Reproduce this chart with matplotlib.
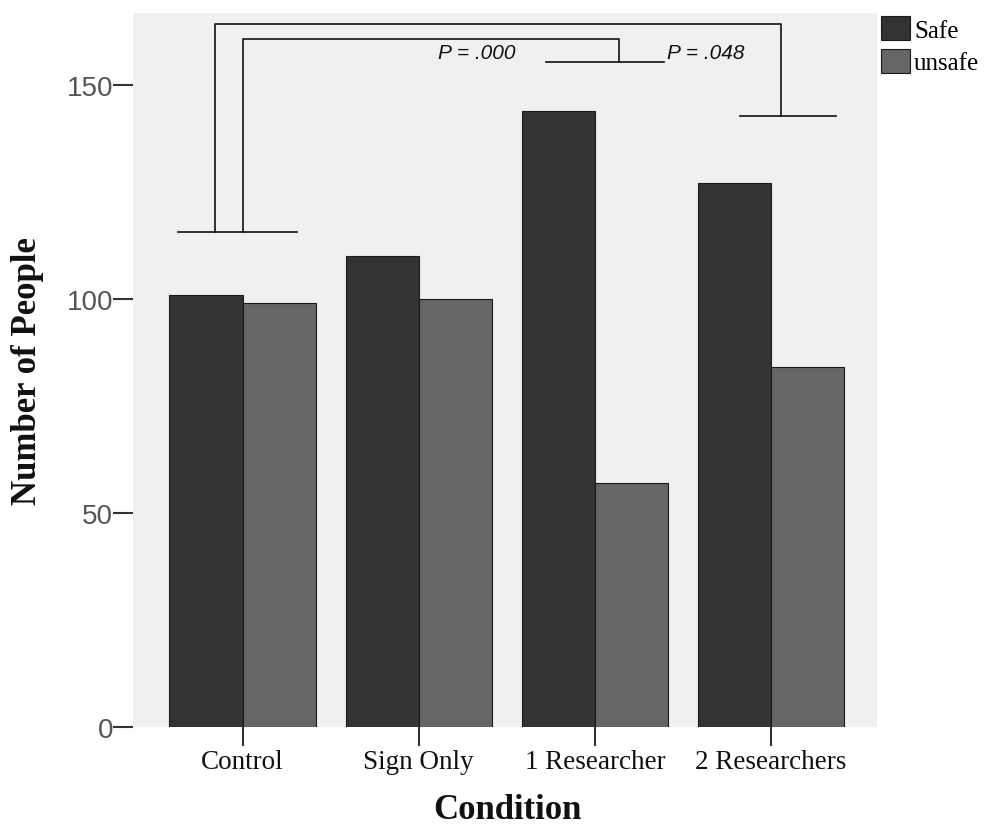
import matplotlib
matplotlib.use("Agg")
import matplotlib.pyplot as plt
import numpy as np

categories = ["Control", "Sign Only", "1 Researcher", "2 Researchers"]
safe = [101, 110, 144, 127]
unsafe = [99, 100, 57, 84]
series_names = ["Safe", "unsafe"]
yticks = [0, 50, 100, 150]

fig = plt.figure(figsize=(9.88, 8.29), dpi=100)
ax = fig.add_axes([133/988, 1-728/829, (877-133)/988, (728-14)/829])
ax.set_facecolor("#f0f0f0")

x = np.arange(len(categories))
w = 0.415
b1 = ax.bar(x - w/2, safe, w, color="#333333", edgecolor="#1a1a1a", linewidth=0.8, label=series_names[0])
b2 = ax.bar(x + w/2, unsafe, w, color="#666666", edgecolor="#1a1a1a", linewidth=0.8, label=series_names[1])

ax.set_xlim(-0.622, 3.602)
ax.set_ylim(0, 166.8)
for s in ax.spines.values():
    s.set_visible(False)

ax.set_yticks(yticks)
ax.set_yticklabels([str(v) for v in yticks], fontfamily="Liberation Sans", fontsize=20, color="#555555")
ax.tick_params(axis="y", length=14.4, width=1.5, color="#333333", pad=0)
ax.set_xticks(x)
ax.set_xticklabels(categories, fontfamily="Liberation Serif", fontsize=19.5, color="#111111")
ax.tick_params(axis="x", length=13.7, width=1.5, color="#333333", pad=2)

# significance brackets (data coordinates)
lc = "#111111"
lw = 1.2
ax.plot([-0.366, 0.309], [115.7, 115.7], color=lc, lw=lw, clip_on=False)
ax.plot([-0.156, -0.156, 3.056, 3.056], [115.7, 164.3, 164.3, 142.8], color=lc, lw=lw, clip_on=False)
ax.plot([2.823, 3.368], [142.8, 142.8], color=lc, lw=lw, clip_on=False)
ax.plot([0.0, 0.0, 2.137, 2.137], [115.7, 160.7, 160.7, 155.4], color=lc, lw=lw, clip_on=False)
ax.plot([1.722, 2.392], [155.4, 155.4], color=lc, lw=lw, clip_on=False)
ax.text(1.33, 157.6, "P = .000", fontfamily="Liberation Sans", style="italic", fontsize=15,
        ha="center", va="center", color="#111111")
ax.text(2.63, 157.6, "P = .048", fontfamily="Liberation Sans", style="italic", fontsize=15,
        ha="center", va="center", color="#111111")

fig.text(28/988, 1-371/829, "Number of People", rotation=90, ha="center", va="center",
         fontfamily="Liberation Serif", fontweight="bold", fontsize=25, color="#111111")
fig.text(507/988, 1-811/829, "Condition", ha="center", va="center",
         fontfamily="Liberation Serif", fontweight="bold", fontsize=25, color="#111111")

leg = fig.legend(handles=[b1, b2], labels=series_names, loc="upper left",
                 bbox_to_anchor=(881/988, 1-17/829), frameon=False,
                 prop={"family": "Liberation Serif", "size": 18},
                 handlelength=1.16, handleheight=1.1, handletextpad=0.16,
                 labelspacing=0.3, borderpad=0, borderaxespad=0)

fig.savefig("out.png", dpi=100)
